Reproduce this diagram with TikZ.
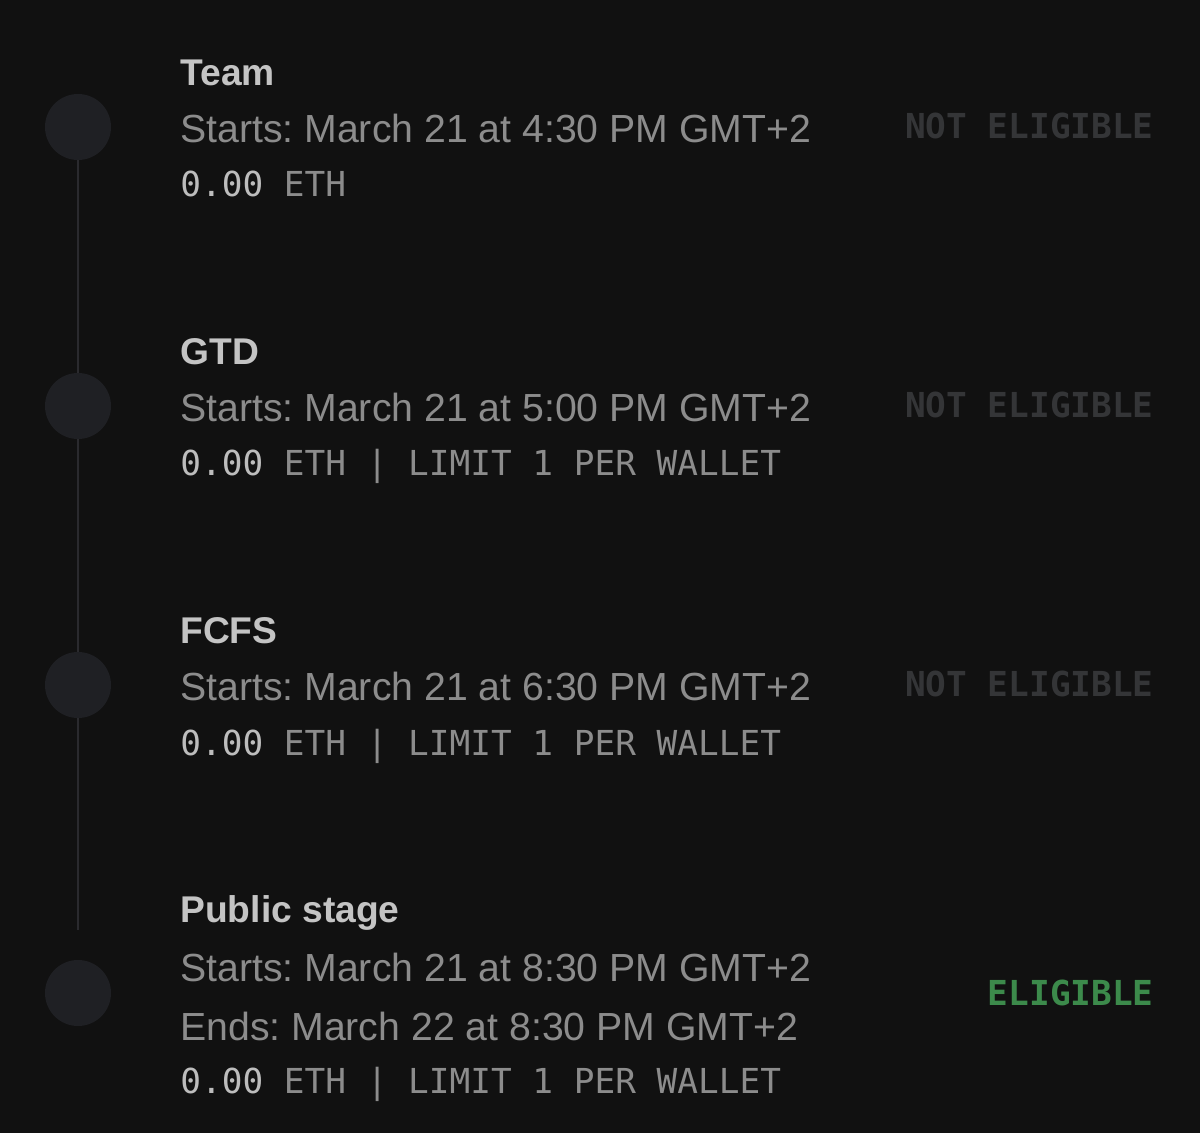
\documentclass[tikz,border=0pt]{standalone}
\usepackage{fontspec}
\setmainfont{Liberation Sans}
\newfontfamily\monofont{DejaVu Sans Mono}
\definecolor{bgc}{HTML}{111111}
\definecolor{dotc}{HTML}{1F2024}
\definecolor{linec}{HTML}{2A2A2E}
\definecolor{titlec}{HTML}{C4C4C4}
\definecolor{subc}{HTML}{8C8C8C}
\definecolor{zeroc}{HTML}{BDBDBD}
\definecolor{notc}{HTML}{343537}
\definecolor{okc}{HTML}{3C8A4B}
\tikzset{
  dotnode/.style={circle,fill=dotc,minimum size=33pt,inner sep=0},
  titletxt/.style={anchor=base west,inner sep=0,text=titlec,font=\fontsize{18.6}{22}\selectfont\bfseries},
  datetxt/.style={anchor=base west,inner sep=0,text=subc,font=\frenchspacing\fontsize{19.6}{24}\selectfont},
  monotxt/.style={anchor=base west,inner sep=0,text=subc,font=\fontsize{17.2}{20}\selectfont\monofont},
  statustxt/.style={anchor=base east,inner sep=0,font=\fontsize{17.2}{20}\selectfont\monofont\bfseries},
}
\begin{document}
\begin{tikzpicture}[x=0.5pt,y=-0.5pt]
\fill[bgc] (0,0) rectangle (1200,1133);
\useasboundingbox (0,0) rectangle (1200,1133);
\coordinate (lineend) at (78,930);
\node[dotnode] (d1) at (78,127) {};
\node[dotnode] (d2) at (78,406) {};
\node[dotnode] (d3) at (78,685) {};
\node[dotnode] (d4) at (78,993) {};
\draw[linec,line width=1pt] (d1.south) -- (d2.north);
\draw[linec,line width=1pt] (d2.south) -- (d3.north);
\draw[linec,line width=1pt] (d3.south) -- (lineend);
% Team
\node[titletxt] (t1) at (180,86) {Team};
\node[datetxt] (s1) at (180,143) {Starts: March 21 at 4:30 PM GMT+2};
\node[monotxt] (m1) at (180,197) {\textcolor{zeroc}{0.00} ETH};
\node[statustxt,text=notc] (e1) at (1154,139) {NOT ELIGIBLE};
% GTD
\node[titletxt] (t2) at (180,365) {GTD};
\node[datetxt] (s2) at (180,422) {Starts: March 21 at 5:00 PM GMT+2};
\node[monotxt] (m2) at (180,476) {\textcolor{zeroc}{0.00} ETH | LIMIT 1 PER WALLET};
\node[statustxt,text=notc] (e2) at (1154,418) {NOT ELIGIBLE};
% FCFS
\node[titletxt] (t3) at (180,644) {FCFS};
\node[datetxt] (s3) at (180,701) {Starts: March 21 at 6:30 PM GMT+2};
\node[monotxt] (m3) at (180,755) {\textcolor{zeroc}{0.00} ETH | LIMIT 1 PER WALLET};
\node[statustxt,text=notc] (e3) at (1154,697) {NOT ELIGIBLE};
% Public
\node[titletxt] (t4) at (180,922) {Public stage};
\node[datetxt] (s4) at (180,981) {Starts: March 21 at 8:30 PM GMT+2};
\node[datetxt] (n4) at (180,1040) {Ends: March 22 at 8:30 PM GMT+2};
\node[monotxt] (m4) at (180,1093) {\textcolor{zeroc}{0.00} ETH | LIMIT 1 PER WALLET};
\node[statustxt,text=okc] (e4) at (1154,1005) {ELIGIBLE};
\end{tikzpicture}
\end{document}
